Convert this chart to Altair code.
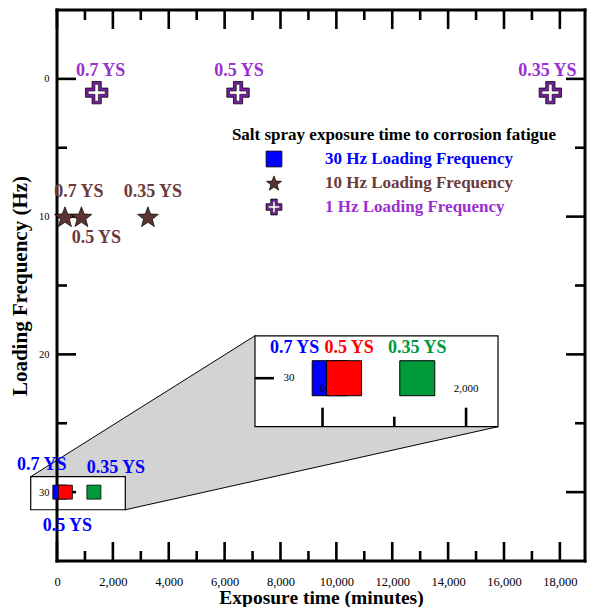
import math
import altair as alt
import pandas as pd

# ---------------- data ----------------
ys_labels = ["0.7 YS", "0.5 YS", "0.35 YS"]
hz1_time = [1420, 6480, 17660]
hz1_freq = [1, 1, 1]
hz10_time = [285, 875, 3255]
hz10_freq = [10, 10, 10]
hz30_time = [100, 300, 1320]
hz30_freq = [30, 30, 30]
hz30_colors = ["#0000FF", "#FF0000", "#009A3A"]

x_major = [0, 2000, 4000, 6000, 8000, 10000, 12000, 14000, 16000, 18000]
x_minor = [1000, 3000, 5000, 7000, 9000, 11000, 13000, 15000, 17000]
y_major = [0, 10, 20, 30]
y_minor = [5, 15, 25]
inset_x_major = [0, 2000]
inset_x_minor = [1000]
inset_y_tick = [30]

legend_title = "Salt spray exposure time to corrosion fatigue"
legend_labels = ["30 Hz Loading Frequency", "10 Hz Loading Frequency", "1 Hz Loading Frequency"]

# ---------------- layout / style ----------------
W, H = 528, 551
XMAX = 18900
YMIN, YMAX = -5, 35
PXX = W / XMAX            # px per minute
PXY = H / (YMAX - YMIN)   # px per Hz unit
FONT = "Liberation Serif"
PURPLE_TXT = "#9B30D0"
PURPLE = "#7B1FA2"
BROWN_TXT = "#6B3A3A"
BROWN = "#5C3333"

# zoom region (data coords) and the inset box (main data coords)
X0, X1, Y0, Y1 = -941, 2445, 28.88, 31.28
IX0, IX1, IY0, IY1 = 7087, 15786, 18.65, 25.25
KX = (IX1 - IX0) / (X1 - X0)
KY = (IY1 - IY0) / (Y1 - Y0)
MAPX = f"{IX0} + (datum.x - ({X0})) * {KX}"
MAPY = f"{IY0} + (datum.y - ({Y0})) * {KY}"

xs = alt.Scale(domain=[0, XMAX], nice=False, zero=False)
ys = alt.Scale(domain=[YMIN, YMAX], nice=False, zero=False, reverse=True)

x_axis = alt.Axis(values=x_major, labelExpr="format(datum.value, ',.0f')", ticks=False, domain=False,
                  grid=False, labelFont=FONT, labelFontSize=12.5, labelColor="black", labelPadding=14,
                  title="Exposure time (minutes)", titleFont=FONT, titleFontSize=19.5,
                  titleFontWeight="bold", titleColor="black", titlePadding=1, labelFlush=False)
y_axis = alt.Axis(values=y_major, labelExpr="format(datum.value, '.0f')", ticks=False, domain=False,
                  grid=False, zindex=1,
                  labelFont=FONT, labelFontSize=10.5, labelColor="black", labelPadding=8,
                  title="Loading Frequency (Hz)", titleFont=FONT, titleFontSize=21,
                  titleFontWeight="bold", titleColor="black", titlePadding=8)

CROSS = "M -0.41 -1 L 0.41 -1 L 0.41 -0.41 L 1 -0.41 L 1 0.41 L 0.41 0.41 L 0.41 1 L -0.41 1 L -0.41 0.41 L -1 0.41 L -1 -0.41 L -0.41 -0.41 Z"
CROSS_IN = "M -0.2 -1 L 0.2 -1 L 0.2 -0.2 L 1 -0.2 L 1 0.2 L 0.2 0.2 L 0.2 1 L -0.2 1 L -0.2 0.2 L -1 0.2 L -1 -0.2 L -0.2 -0.2 Z"
_sp = []
for k in range(10):
    r = 1.0 if k % 2 == 0 else 0.42
    a = math.radians(-90 + 36 * k)
    _sp.append(f"{r * math.cos(a):.3f} {r * math.sin(a) + 0.1:.3f}")
STAR = "M " + " L ".join(_sp) + " Z"


def MX(f):
    return alt.X(f, type="quantitative", scale=xs, axis=x_axis)


def MY(f):
    return alt.Y(f, type="quantitative", scale=ys, axis=y_axis)


def pts(t, f, lab):
    return pd.DataFrame({"x": t, "y": f, "label": lab})


df1 = pts(hz1_time, hz1_freq, ys_labels)
df10 = pts(hz10_time, hz10_freq, ys_labels)
df30 = pts(hz30_time, hz30_freq, ys_labels)

layers = []

# ---- zoom connector polygon ----
def lerp(a, b, x):
    return a[1] + (b[1] - a[1]) * (x - a[0]) / (b[0] - a[0])

m_tl, m_br = (X0, Y0), (X1, Y1)
i_tl, i_br = (IX0, IY0), (IX1, IY1)
poly_x = [X0, X1, IX0, IX1]
poly_top, poly_bot = [], []
for x in poly_x:
    poly_top.append(lerp(m_tl, i_tl, x) if x <= IX0 else lerp(i_tl, i_br, x))
    poly_bot.append(lerp(m_tl, m_br, x) if x <= X1 else lerp(m_br, i_br, x))
poly = pd.DataFrame({"x": poly_x, "top": poly_top, "bot": poly_bot})
layers.append(alt.Chart(poly).mark_area(fill="#d3d3d3", stroke="black", strokeWidth=1).encode(
    x=MX("x"), y=MY("top"), y2="bot"))

boxes = pd.DataFrame({"x": [X0, IX0], "x2": [X1, IX1], "y": [Y0, IY0], "y2": [Y1, IY1]})
layers.append(alt.Chart(boxes).mark_rect(fill="white", stroke="black", strokeWidth=1.2).encode(
    x=MX("x"), x2="x2", y=MY("y"), y2="y2"))

# ---- frame ----
fr = alt.Chart(pd.DataFrame({"a": [0]}))
sty = dict(color="black", strokeWidth=3, strokeCap="square")
layers += [
    fr.mark_rule(**sty).encode(x=alt.value(0), x2=alt.value(W), y=alt.value(0)),
    fr.mark_rule(**sty).encode(x=alt.value(0), x2=alt.value(W), y=alt.value(H)),
    fr.mark_rule(**sty).encode(x=alt.value(0), y=alt.value(0), y2=alt.value(H)),
    fr.mark_rule(**sty).encode(x=alt.value(W), y=alt.value(0), y2=alt.value(H)),
]

# ---- inward ticks ----
def xticks(vals, L):
    d = alt.Chart(pd.DataFrame({"v": vals}))
    s = dict(color="black", strokeWidth=2.6)
    return [d.mark_rule(**s).encode(x=MX("v"), y=alt.value(H), y2=alt.value(H - L)),
            d.mark_rule(**s).encode(x=MX("v"), y=alt.value(0), y2=alt.value(L))]


def yticks(vals, L):
    d = alt.Chart(pd.DataFrame({"v": vals}))
    s = dict(color="black", strokeWidth=2.6)
    return [d.mark_rule(**s).encode(y=MY("v"), x=alt.value(0), x2=alt.value(L)),
            d.mark_rule(**s).encode(y=MY("v"), x=alt.value(W), x2=alt.value(W - L))]

layers += xticks(x_major, 19) + xticks(x_minor, 10) + yticks(y_major, 19) + yticks(y_minor, 10)

# ---- 1 Hz crosses ----
c1 = alt.Chart(df1)
layers.append(c1.mark_point(shape=CROSS, filled=True, fill=PURPLE, stroke="black", strokeWidth=0.8,
                            size=500, opacity=1).encode(x=MX("x"), y=MY("y")))
layers.append(c1.mark_point(shape=CROSS_IN, filled=True, fill="white", stroke="black", strokeWidth=0.6,
                            size=290, opacity=1).encode(x=MX("x"), y=MY("y")))

# ---- 10 Hz stars ----
layers.append(alt.Chart(df10).mark_point(shape=STAR, filled=True, fill=BROWN, stroke="black", strokeWidth=0.7,
                                         size=480, opacity=1).encode(x=MX("x"), y=MY("y")))

# ---- 30 Hz squares (main) ----
layers.append(alt.Chart(df30).mark_point(shape="square", filled=True, stroke="black", strokeWidth=0.8,
                                         size=196, opacity=1).encode(
    x=MX("x"), y=MY("y"),
    fill=alt.Fill("label:N", scale=alt.Scale(domain=ys_labels, range=hz30_colors), legend=None)))

# ---- point labels ----
tsty = dict(font=FONT, fontSize=18, fontWeight="bold", align="center", baseline="middle")
off1 = [(4, -22), (1, -22), (-3, -22)]
off10 = [(14, -25), (15, 21), (5, -25)]
off30 = [(-18, -27), (2, 34), (22, -24)]
for i in range(3):
    layers.append(alt.Chart(df1.iloc[[i]]).mark_text(color=PURPLE_TXT, dx=off1[i][0], dy=off1[i][1], **tsty)
                  .encode(x=MX("x"), y=MY("y"), text="label:N"))
    layers.append(alt.Chart(df10.iloc[[i]]).mark_text(color=BROWN_TXT, dx=off10[i][0], dy=off10[i][1], **tsty)
                  .encode(x=MX("x"), y=MY("y"), text="label:N"))
    layers.append(alt.Chart(df30.iloc[[i]]).mark_text(color="#0000FF", dx=off30[i][0], dy=off30[i][1], **tsty)
                  .encode(x=MX("x"), y=MY("y"), text="label:N"))

# ---- legend (manual) ----
layers.append(alt.Chart(pd.DataFrame({"t": [legend_title]})).mark_text(
    font=FONT, fontSize=17, fontWeight="bold", color="black", align="center", baseline="middle")
    .encode(x=alt.value(337), y=alt.value(125), text="t:N"))
leg_rows = [149, 173, 197]
leg_colors = ["#0000FF", BROWN_TXT, PURPLE_TXT]
one = alt.Chart(pd.DataFrame({"a": [0]}))
layers.append(one.mark_point(shape="square", filled=True, fill="#0000FF", stroke="black", strokeWidth=0.8,
                             size=250, opacity=1).encode(x=alt.value(217), y=alt.value(leg_rows[0])))
layers.append(one.mark_point(shape=STAR, filled=True, fill=BROWN, stroke="black", strokeWidth=0.7,
                             size=250, opacity=1).encode(x=alt.value(217), y=alt.value(leg_rows[1])))
layers.append(one.mark_point(shape=CROSS, filled=True, fill=PURPLE, stroke="black", strokeWidth=0.8,
                             size=250, opacity=1).encode(x=alt.value(217), y=alt.value(leg_rows[2])))
layers.append(one.mark_point(shape=CROSS_IN, filled=True, fill="white", stroke="black", strokeWidth=0.5,
                             size=130, opacity=1).encode(x=alt.value(217), y=alt.value(leg_rows[2])))
for i, lab in enumerate(legend_labels):
    layers.append(alt.Chart(pd.DataFrame({"t": [lab]})).mark_text(
        font=FONT, fontSize=17, fontWeight="bold", color=leg_colors[i], align="left", baseline="middle")
        .encode(x=alt.value(268), y=alt.value(leg_rows[i]), text="t:N"))

# ---------------- inset (zoomed view, mapped into the inset box) ----------------
def inset_chart(df):
    return alt.Chart(df).transform_calculate(xm=MAPX, ym=MAPY)

rs = dict(color="black", strokeWidth=2.6)
Lmaj, Lmin = 19 / PXY, 10 / PXY
layers.append(inset_chart(pd.DataFrame({"x": inset_x_major, "y": [Y1] * 2}))
              .transform_calculate(ym2=f"datum.ym - {Lmaj}")
              .mark_rule(**rs).encode(x=MX("xm:Q"), y=MY("ym:Q"), y2="ym2:Q"))
layers.append(inset_chart(pd.DataFrame({"x": inset_x_minor, "y": [Y1]}))
              .transform_calculate(ym2=f"datum.ym - {Lmin}")
              .mark_rule(**rs).encode(x=MX("xm:Q"), y=MY("ym:Q"), y2="ym2:Q"))
layers.append(inset_chart(pd.DataFrame({"x": [X0], "y": inset_y_tick}))
              .transform_calculate(xm2=f"datum.xm + {19 / PXX}")
              .mark_rule(**rs).encode(x=MX("xm:Q"), x2="xm2:Q", y=MY("ym:Q")))
layers.append(inset_chart(pd.DataFrame({"x": [X0], "y": inset_y_tick, "t": ["30"]}))
              .mark_text(font=FONT, fontSize=11, color="black", dx=34, baseline="middle")
              .encode(x=MX("xm:Q"), y=MY("ym:Q"), text="t:N"))
layers.append(inset_chart(pd.DataFrame({"x": [2000], "y": [30], "t": ["2,000"]}))
              .mark_text(font=FONT, fontSize=11, color="black", dy=11, baseline="middle")
              .encode(x=MX("xm:Q"), y=MY("ym:Q"), text="t:N"))
layers.append(inset_chart(df30.iloc[[0]]).mark_point(shape="square", filled=True, fill=hz30_colors[0],
                                                     stroke="black", strokeWidth=1, size=1225, opacity=1)
              .encode(x=MX("xm:Q"), y=MY("ym:Q")))
layers.append(inset_chart(pd.DataFrame({"x": [0], "y": [30], "t": ["0"]}))
              .mark_text(font=FONT, fontSize=11, color="black", dy=11, baseline="middle")
              .encode(x=MX("xm:Q"), y=MY("ym:Q"), text="t:N"))
for i in [1, 2]:
    layers.append(inset_chart(df30.iloc[[i]]).mark_point(shape="square", filled=True, fill=hz30_colors[i],
                                                         stroke="black", strokeWidth=1, size=1225, opacity=1)
                  .encode(x=MX("xm:Q"), y=MY("ym:Q")))
offI = [(-35, -30), (5, -30), (0, -30)]
for i in range(3):
    layers.append(inset_chart(df30.iloc[[i]]).mark_text(color=hz30_colors[i], dx=offI[i][0], dy=offI[i][1], **tsty)
                  .encode(x=MX("xm:Q"), y=MY("ym:Q"), text="label:N"))

chart = alt.layer(*layers).properties(
    width=W, height=H,
    padding={"left": 49, "top": 2, "right": 2, "bottom": 46},
    autosize=alt.AutoSizeParams(type="none"),
).configure_view(strokeWidth=0)

chart.save("out.html", embed_options={"renderer": "svg", "actions": False})
